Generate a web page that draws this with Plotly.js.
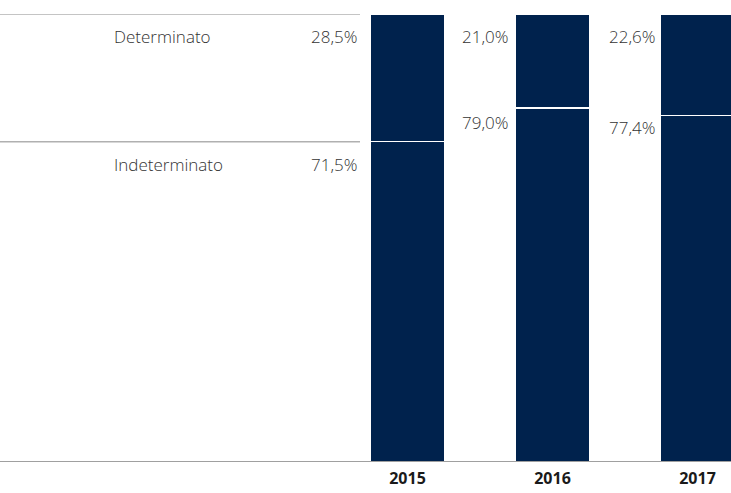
<!DOCTYPE html>
<html>
<head>
<meta charset="utf-8">
<script src="https://cdn.plot.ly/plotly-3.0.1.min.js"></script>
<style>
    html, body { margin: 0; padding: 0; background: #fff; }
    #chart { width: 731px; height: 493px; }
</style>
</head>
<body>
<div id="chart"></div>
<script>
const years = ['2015', '2016', '2017'];
const determinato = [28.5, 21.0, 22.6];
const indeterminato = [71.5, 79.0, 77.4];
const seriesNames = ['Determinato', 'Indeterminato'];

const navy = '#00224d';
const textColor = '#333333';
const font = 'Open Sans, sans-serif';
const barWidth = 0.517;

function fmt(v) {
    return v.toFixed(1).replace('.', ',') + '%';
}

const xs = years.map((y, i) => i);

const bars = [
    {
        x: xs, y: indeterminato, name: seriesNames[1], type: 'bar', width: barWidth,
        marker: { color: navy, line: { color: '#ffffff', width: 1.5 } },
        hoverinfo: 'skip'
    },
    {
        x: xs, y: determinato, name: seriesNames[0], type: 'bar', width: barWidth,
        marker: { color: navy, line: { color: '#ffffff', width: 1.5 } },
        hoverinfo: 'skip'
    }
];

const annotations = [];
const labelFont = { family: font, size: 17, color: textColor, weight: 300 };

// left-hand series names
annotations.push({
    xref: 'paper', x: 112 / 731, yref: 'y', y: 100, xanchor: 'left', yanchor: 'top',
    yshift: -9, text: seriesNames[0], showarrow: false, font: labelFont
});
annotations.push({
    xref: 'paper', x: 112 / 731, yref: 'y', y: indeterminato[0], xanchor: 'left', yanchor: 'top',
    yshift: -9, text: seriesNames[1], showarrow: false, font: labelFont
});

// percentages to the left of each bar
const xshifts = [-11, -5, -3];
const lowShifts = [-9, -1, 1];
years.forEach((y, i) => {
    annotations.push({
        x: i - barWidth / 2, y: 100, xanchor: 'right', yanchor: 'top',
        xshift: xshifts[i], yshift: -9, text: fmt(determinato[i]),
        showarrow: false, font: labelFont
    });
    annotations.push({
        x: i - barWidth / 2, y: indeterminato[i], xanchor: 'right', yanchor: 'top',
        xshift: xshifts[i], yshift: lowShifts[i], text: fmt(indeterminato[i]),
        showarrow: false, font: labelFont
    });
});

const shapes = [
    { type: 'line', xref: 'paper', x0: 0, x1: 360 / 731, yref: 'y', y0: 100, y1: 100,
      line: { color: '#b0b0b0', width: 1.5 }, layer: 'below' },
    { type: 'line', xref: 'paper', x0: 0, x1: 360 / 731, yref: 'y', y0: indeterminato[0], y1: indeterminato[0],
      line: { color: '#b0b0b0', width: 1.5 }, layer: 'below' },
    { type: 'line', xref: 'paper', x0: 0, x1: 1, yref: 'y', y0: 0, y1: 0,
      line: { color: '#808080', width: 1.5 }, layer: 'above' }
];

const layout = {
    width: 731,
    height: 493,
    margin: { l: 0, r: 0, t: 14, b: 31 },
    paper_bgcolor: '#ffffff',
    plot_bgcolor: '#ffffff',
    barmode: 'stack',
    showlegend: false,
    xaxis: {
        range: [-407.5 / 145, (731 - 407.5) / 145],
        tickvals: xs,
        ticktext: years,
        ticks: '',
        ticklabelstandoff: 5,
        showgrid: false,
        zeroline: false,
        showline: false,
        tickfont: { family: font, size: 16, color: '#1a1a1a', weight: 'bold' }
    },
    yaxis: {
        range: [0, 100],
        visible: false,
        showgrid: false,
        zeroline: false
    },
    annotations: annotations,
    shapes: shapes
};

Plotly.newPlot('chart', bars, layout, { displayModeBar: false, staticPlot: true });
</script>
</body>
</html>
